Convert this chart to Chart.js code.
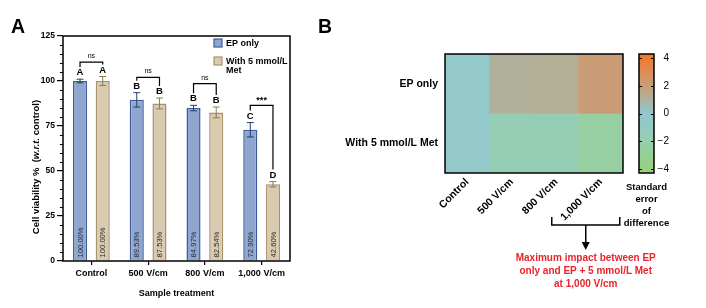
<!DOCTYPE html>
<html>
<head>
<meta charset="utf-8">
<script src="https://cdn.jsdelivr.net/npm/chart.js@4.4.1/dist/chart.umd.min.js"></script>
<style>
  html, body { margin: 0; padding: 0; background: #fff; }
  #wrap { position: relative; width: 706px; height: 308px; }
  #cA { position: absolute; left: 0; top: 0; }
  #cB { position: absolute; left: 310px; top: 0; }
</style>
</head>
<body>
<div id="wrap">
  <canvas id="cA" width="310" height="308"></canvas>
  <canvas id="cB" width="396" height="308"></canvas>
</div>
<script>
// panel A data
const treatments = ["Control", "500 V/cm", "800 V/cm", "1,000 V/cm"];
const epOnly = [100.00, 89.53, 84.97, 72.90];
const withMet = [100.00, 87.53, 82.54, 42.60];
const epErr = [1.0, 4.0, 1.5, 4.0];
const metErr = [2.5, 3.0, 3.0, 1.5];
const epLetters = ["A", "B", "B", "C"];
const metLetters = ["A", "B", "B", "D"];
const pairSig = ["ns", "ns", "ns", "***"];
const bracketLevel = [110.5, 102, 98.5, 86.5];

// panel B data
const heatCols = ["Control", "500 V/cm", "800 V/cm", "1,000 V/cm"];
const heatRows = ["EP only", "With 5 mmol/L Met"];
const sedEp = [-0.4, 1.1, 1.2, 2.1];
const sedMet = [-0.4, -1.6, -1.6, -2.5];
const cbTicks = [-4, -2, 0, 2, 4];

const FONT = "'Liberation Sans', Arial, sans-serif";
Chart.defaults.font.family = FONT;
Chart.defaults.color = '#000';

const cbStops = [
  [-4.3, '#93d27a'], [-4, '#95d07e'], [-2, '#96cfac'], [-1, '#92cbc0'],
  [0, '#93c7d2'], [1, '#aeb29e'], [2, '#c79e78'], [3, '#dc8d58'], [4.3, '#f27626']
];

function hex2rgb(h) {
  return [parseInt(h.slice(1, 3), 16), parseInt(h.slice(3, 5), 16), parseInt(h.slice(5, 7), 16)];
}
function colorFor(v) {
  for (let i = 0; i < cbStops.length - 1; i++) {
    const [v0, c0] = cbStops[i], [v1, c1] = cbStops[i + 1];
    if (v >= v0 && v <= v1) {
      const t = (v - v0) / (v1 - v0);
      const a = hex2rgb(c0), b = hex2rgb(c1);
      const c = a.map((x, k) => Math.round(x + (b[k] - x) * t));
      return `rgb(${c[0]},${c[1]},${c[2]})`;
    }
  }
  return v < 0 ? cbStops[0][1] : cbStops[cbStops.length - 1][1];
}

// ---------- panel A extras ----------
const panelAExtras = {
  id: 'panelAExtras',
  afterDraw(chart) {
    const ctx = chart.ctx;
    const y = chart.scales.y;
    const area = chart.chartArea;
    ctx.save();

    // minor ticks
    ctx.strokeStyle = '#000';
    ctx.lineWidth = 1;
    for (let v = 0; v <= 125; v += 5) {
      if (v % 25 === 0) continue;
      const py = Math.round(y.getPixelForValue(v)) + 0.5;
      ctx.beginPath();
      ctx.moveTo(area.left - 3, py);
      ctx.lineTo(area.left, py);
      ctx.stroke();
    }

    // error bars, letters, % labels
    chart.data.datasets.forEach((ds, di) => {
      const meta = chart.getDatasetMeta(di);
      meta.data.forEach((bar, i) => {
        const v = ds.data[i], e = ds.err[i];
        const top = y.getPixelForValue(v + e), bot = y.getPixelForValue(v - e);
        ctx.strokeStyle = ds.errColor;
        ctx.lineWidth = 1;
        ctx.beginPath();
        ctx.moveTo(bar.x, top); ctx.lineTo(bar.x, bot);
        ctx.moveTo(bar.x - 3.5, top); ctx.lineTo(bar.x + 3.5, top);
        ctx.moveTo(bar.x - 3.5, bot); ctx.lineTo(bar.x + 3.5, bot);
        ctx.stroke();

        ctx.fillStyle = '#000';
        ctx.font = 'bold 9.5px ' + FONT;
        ctx.textAlign = 'center';
        ctx.textBaseline = 'middle';
        ctx.fillText(ds.letters[i], bar.x, top - 6.5);

        ctx.save();
        ctx.translate(bar.x, bar.base - 3);
        ctx.rotate(-Math.PI / 2);
        ctx.font = '7.6px ' + FONT;
        ctx.fillStyle = '#2a2a2a';
        ctx.textAlign = 'left';
        ctx.textBaseline = 'middle';
        ctx.fillText(v.toFixed(2) + '%', 0, 0.5);
        ctx.restore();
      });
    });

    // significance brackets
    const m0 = chart.getDatasetMeta(0), m1 = chart.getDatasetMeta(1);
    const d0 = chart.data.datasets[0], d1 = chart.data.datasets[1];
    pairSig.forEach((s, i) => {
      const by = y.getPixelForValue(bracketLevel[i]);
      const x0 = m0.data[i].x, x1 = m1.data[i].x;
      const l0 = y.getPixelForValue(d0.data[i] + d0.err[i]) - 12;
      const l1 = y.getPixelForValue(d1.data[i] + d1.err[i]) - 12;
      ctx.strokeStyle = '#000';
      ctx.lineWidth = 1.2;
      ctx.beginPath();
      ctx.moveTo(x0, l0); ctx.lineTo(x0, by); ctx.lineTo(x1, by); ctx.lineTo(x1, l1);
      ctx.stroke();
      ctx.fillStyle = '#000';
      ctx.textAlign = 'center';
      ctx.textBaseline = 'middle';
      if (s === 'ns') {
        ctx.font = '7px ' + FONT;
        ctx.fillText(s, (x0 + x1) / 2, by - 6);
      } else {
        ctx.font = 'bold 9px ' + FONT;
        ctx.fillText(s, (x0 + x1) / 2, by - 5);
      }
    });

    // frame
    ctx.strokeStyle = '#000';
    ctx.lineWidth = 1.5;
    ctx.strokeRect(area.left, area.top, area.right - area.left, area.bottom - area.top);

    // legend
    let ly = area.top + 3;
    const lx = area.right - 76;
    chart.data.datasets.forEach((ds) => {
      ctx.fillStyle = ds.backgroundColor;
      ctx.strokeStyle = ds.borderColor;
      ctx.lineWidth = 1.2;
      ctx.fillRect(lx, ly, 8, 8);
      ctx.strokeRect(lx, ly, 8, 8);
      ctx.fillStyle = '#000';
      ctx.font = 'bold 9px ' + FONT;
      ctx.textAlign = 'left';
      ctx.textBaseline = 'middle';
      // wrap
      const words = ds.label.split(' ');
      const lines = [];
      let cur = '';
      words.forEach(w => {
        const t = cur ? cur + ' ' + w : w;
        if (ctx.measureText(t).width > 64 && cur) { lines.push(cur); cur = w; } else cur = t;
      });
      lines.push(cur);
      lines.forEach((ln, k) => ctx.fillText(ln, lx + 12, ly + 4.5 + k * 9.5));
      ly += 18;
    });

    // y title with italic part
    ctx.save();
    ctx.translate(36, 167);
    ctx.rotate(-Math.PI / 2);
    const parts = [
      ['Cell viability %  (', 'bold 9.5px '],
      ['w.r.t.', 'italic bold 9.5px '],
      [' control)', 'bold 9.5px ']
    ];
    let total = 0;
    parts.forEach(p => { ctx.font = p[1] + FONT; total += ctx.measureText(p[0]).width; });
    let px = -total / 2;
    ctx.textAlign = 'left';
    ctx.textBaseline = 'middle';
    ctx.fillStyle = '#000';
    parts.forEach(p => { ctx.font = p[1] + FONT; ctx.fillText(p[0], px, 0); px += ctx.measureText(p[0]).width; });
    ctx.restore();

    // panel letter
    ctx.font = 'bold 19.5px ' + FONT;
    ctx.textAlign = 'left';
    ctx.textBaseline = 'alphabetic';
    ctx.fillText('A', 11, 33);
    ctx.restore();
  }
};

new Chart(document.getElementById('cA'), {
  type: 'bar',
  data: {
    labels: treatments,
    datasets: [
      {
        label: 'EP only', data: epOnly, err: epErr, letters: epLetters,
        backgroundColor: '#8fa6d1', borderColor: '#3e5c9c', borderWidth: 1.5, errColor: '#263c6e',
        categoryPercentage: 0.8, barPercentage: 0.62
      },
      {
        label: 'With 5 mmol/L Met', data: withMet, err: metErr, letters: metLetters,
        backgroundColor: '#d9cab0', borderColor: '#a8936c', borderWidth: 1.5, errColor: '#8f7a55',
        categoryPercentage: 0.8, barPercentage: 0.62
      }
    ]
  },
  options: {
    responsive: false,
    animation: false,
    devicePixelRatio: 1,
    layout: { padding: { left: 0, top: 36, right: 20, bottom: 0 } },
    plugins: { legend: { display: false }, tooltip: { enabled: false } },
    scales: {
      x: {
        grid: { display: true, drawOnChartArea: false, offset: false, tickLength: 4, color: '#000', lineWidth: 1.2 },
        border: { display: false },
        ticks: { font: { size: 9, weight: 'bold' }, color: '#000', padding: 3, maxRotation: 0 },
        title: { display: true, text: 'Sample treatment', font: { size: 9, weight: 'bold' }, color: '#000', padding: { top: 4, bottom: 9 } },
        afterFit(s) { s.height = 47; }
      },
      y: {
        min: 0, max: 125,
        ticks: { stepSize: 25, font: { size: 8.5, weight: 'bold' }, color: '#000', padding: 2 },
        grid: { drawOnChartArea: false, tickLength: 6, color: '#000', lineWidth: 1.2 },
        border: { display: false },
        afterFit(s) { s.width = 63; }
      }
    }
  },
  plugins: [panelAExtras]
});

// ---------- panel B extras ----------
const panelBExtras = {
  id: 'panelBExtras',
  afterDraw(chart) {
    const ctx = chart.ctx;
    const area = chart.chartArea;
    const cb = chart.scales.cb;
    const x = chart.scales.x;
    ctx.save();

    // heatmap frame
    ctx.strokeStyle = '#000';
    ctx.lineWidth = 1.5;
    ctx.strokeRect(area.left, area.top, area.right - area.left, area.bottom - area.top);

    // colour bar
    const x0 = area.right + 16, w = 15;
    const yt = cb.getPixelForValue(cb.max), yb = cb.getPixelForValue(cb.min);
    const g = ctx.createLinearGradient(0, yt, 0, yb);
    cbStops.forEach(([v, c]) => {
      g.addColorStop((cb.getPixelForValue(v) - yt) / (yb - yt), c);
    });
    ctx.fillStyle = g;
    ctx.fillRect(x0, yt, w, yb - yt);
    ctx.strokeStyle = '#000';
    ctx.lineWidth = 1.5;
    ctx.strokeRect(x0, yt, w, yb - yt);
    ctx.lineWidth = 1;
    cbTicks.forEach(v => {
      const py = Math.round(cb.getPixelForValue(v)) + 0.5;
      ctx.beginPath();
      ctx.moveTo(x0, py); ctx.lineTo(x0 + 3, py);
      ctx.moveTo(x0 + w - 3, py); ctx.lineTo(x0 + w, py);
      ctx.stroke();
    });

    // colour bar caption
    ctx.fillStyle = '#000';
    ctx.font = 'bold 9.5px ' + FONT;
    ctx.textAlign = 'center';
    ctx.textBaseline = 'middle';
    ['Standard', 'error', 'of', 'difference'].forEach((t, k) => {
      ctx.fillText(t, x0 + w / 2, area.bottom + 14 + k * 12);
    });

    // bracket + arrow under last column
    const cx = x.getPixelForValue(heatCols.length - 1) - 15;
    const bw = 34, byy = area.bottom + 52;
    ctx.strokeStyle = '#000';
    ctx.lineWidth = 1.5;
    ctx.beginPath();
    ctx.moveTo(cx - bw, byy - 8); ctx.lineTo(cx - bw, byy); ctx.lineTo(cx + bw, byy); ctx.lineTo(cx + bw, byy - 8);
    ctx.moveTo(cx, byy); ctx.lineTo(cx, byy + 18);
    ctx.stroke();
    ctx.fillStyle = '#000';
    ctx.beginPath();
    ctx.moveTo(cx - 4, byy + 17); ctx.lineTo(cx + 4, byy + 17); ctx.lineTo(cx, byy + 25);
    ctx.closePath();
    ctx.fill();

    ctx.fillStyle = '#e8232b';
    ctx.font = 'bold 10px ' + FONT;
    ctx.textAlign = 'center';
    ctx.textBaseline = 'middle';
    ['Maximum impact between EP', 'only and EP + 5 mmol/L Met', 'at 1,000 V/cm'].forEach((t, k) => {
      ctx.fillText(t, cx, byy + 33 + k * 13);
    });

    // panel letter
    ctx.fillStyle = '#000';
    ctx.font = 'bold 19.5px ' + FONT;
    ctx.textAlign = 'left';
    ctx.textBaseline = 'alphabetic';
    ctx.fillText('B', 8, 33);
    ctx.restore();
  }
};

new Chart(document.getElementById('cB'), {
  type: 'bar',
  data: {
    labels: heatCols,
    datasets: [
      { label: heatRows[0], data: heatCols.map(() => [1, 2]), backgroundColor: sedEp.map(colorFor) },
      { label: heatRows[1], data: heatCols.map(() => [0, 1]), backgroundColor: sedMet.map(colorFor) }
    ]
  },
  options: {
    responsive: false,
    animation: false,
    devicePixelRatio: 1,
    datasets: { bar: { grouped: false, barPercentage: 1, categoryPercentage: 1, borderWidth: 0 } },
    layout: { padding: { left: 0, top: 54, right: 37, bottom: 0 } },
    plugins: { legend: { display: false }, tooltip: { enabled: false } },
    scales: {
      x: {
        grid: { display: false, drawTicks: false },
        border: { display: false },
        ticks: { minRotation: 45, maxRotation: 45, padding: 3, font: { size: 10.5, weight: 'bold' }, color: '#000' },
        afterFit(s) { s.height = 135; }
      },
      y: {
        min: 0, max: 2,
        afterBuildTicks(s) { s.ticks = [{ value: 1.5 }, { value: 0.5 }]; },
        ticks: { callback: v => (v > 1 ? heatRows[0] : heatRows[1]), padding: 7, font: { size: 10.5, weight: 'bold' }, color: '#000' },
        grid: { display: false, drawTicks: false },
        border: { display: false },
        afterFit(s) { s.width = 135; }
      },
      cb: {
        type: 'linear', position: 'right', min: -4.3, max: 4.3,
        afterBuildTicks(s) { s.ticks = cbTicks.map(v => ({ value: v })); },
        ticks: { callback: v => (v < 0 ? '\u2212' + Math.abs(v) : String(v)), crossAlign: 'far', padding: 35, font: { size: 10 }, color: '#000' },
        grid: { display: false, drawTicks: false },
        border: { display: false },
        afterFit(s) { s.width = 46; }
      }
    }
  },
  plugins: [panelBExtras]
});
</script>
</body>
</html>
